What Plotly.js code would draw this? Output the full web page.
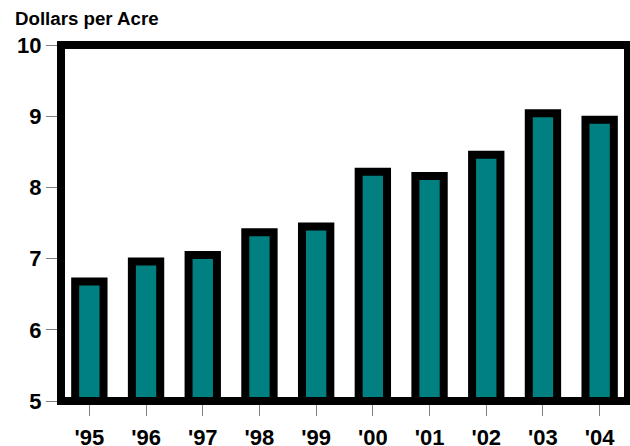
<!DOCTYPE html>
<html>
<head>
<meta charset="utf-8">
<script src="https://cdn.plot.ly/plotly-3.0.1.min.js"></script>
<style>html,body{margin:0;padding:0;background:#fff;}#chart{width:630px;height:446px;}</style>
</head>
<body>
<div id="chart"></div>
<script>
var years = ["'95", "'96", "'97", "'98", "'99", "'00", "'01", "'02", "'03", "'04"];
var dollarsPerAcre = [6.68, 6.96, 7.05, 7.37, 7.45, 8.22, 8.16, 8.46, 9.04, 8.95];
var yTicks = [5, 6, 7, 8, 9, 10];
var yTitle = "Dollars per Acre";

var FONT = "Liberation Sans, Arial, sans-serif";

var trace = {
  type: 'bar',
  x: years,
  y: dollarsPerAcre,
  base: 0,
  width: 0.5,
  marker: {color: '#008080', line: {color: '#000000', width: 8}},
  hoverinfo: 'skip'
};

var layout = {
  width: 630,
  height: 446,
  margin: {l: 61, r: 2, t: 45, b: 45, pad: 0},
  paper_bgcolor: '#ffffff',
  plot_bgcolor: '#ffffff',
  showlegend: false,
  bargap: 0.5,
  xaxis: {
    type: 'category',
    showgrid: false,
    zeroline: false,
    showline: false,
    ticks: 'outside',
    ticklen: 14,
    tickwidth: 1,
    tickcolor: '#808080',
    ticklabelstandoff: 3,
    tickfont: {family: FONT, size: 22, color: '#000000', weight: 'bold'},
    fixedrange: true
  },
  yaxis: {
    range: [5, 10],
    tickvals: yTicks,
    ticktext: yTicks.map(String),
    showgrid: false,
    zeroline: false,
    showline: false,
    ticks: 'outside',
    ticklen: 14,
    tickwidth: 1,
    tickcolor: '#808080',
    tickfont: {family: FONT, size: 22, color: '#000000', weight: 'bold'},
    fixedrange: true
  },
  shapes: [{
    type: 'rect', xref: 'paper', yref: 'paper', x0: 0, x1: 1, y0: 0, y1: 1,
    line: {color: '#000000', width: 8}, fillcolor: 'rgba(0,0,0,0)', layer: 'above'
  }],
  annotations: [{
    text: yTitle,
    xref: 'paper', yref: 'paper',
    x: (13 - 61) / 567, y: 1 + (45 - 19) / 356,
    xanchor: 'left', yanchor: 'middle',
    showarrow: false,
    font: {family: FONT, size: 18.7, color: '#000000', weight: 'bold'}
  }]
};

Plotly.newPlot('chart', [trace], layout, {displayModeBar: false, staticPlot: true});
</script>
</body>
</html>
